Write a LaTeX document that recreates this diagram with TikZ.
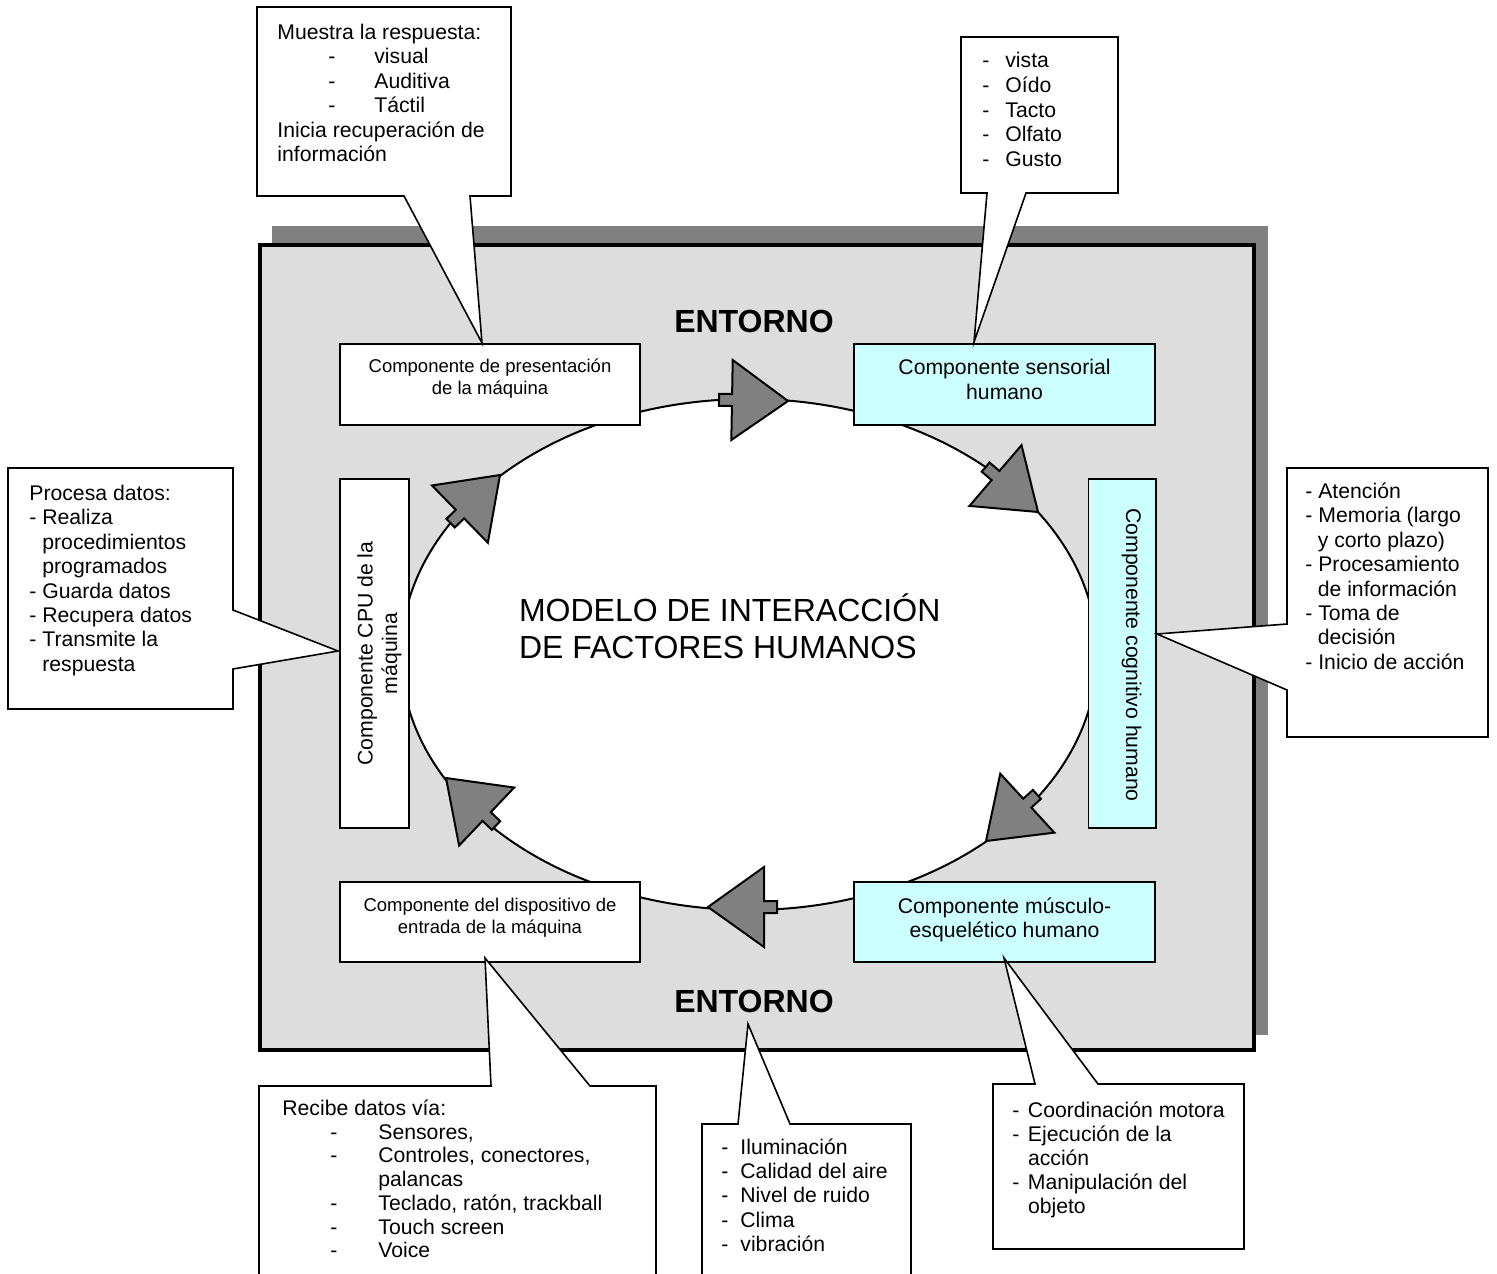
\documentclass[tikz,border=0pt]{standalone}
\usepackage{fontspec}
\setmainfont{Liberation Sans}
\definecolor{shadowgray}{HTML}{808080}
\definecolor{envgray}{HTML}{DDDDDD}
\definecolor{lightcyan}{HTML}{CCFFFF}
\newcommand\ctrtwo[2]{\vtop{\hbox to 0pt{\hss#1\hss}\hbox to 0pt{\hss#2\hss}}}
\newcommand\ditem[3]{\hbox{\kern#1pt\rlap{-}\kern#2pt\relax#3}}
\newcommand\flowarrow[3]{\draw[blockarr, shift={(#1,#2)}, rotate=#3] (0,0) -- (-56,40) -- (-56,6) -- (-69,6) -- (-69,-6) -- (-56,-6) -- (-56,-40) -- cycle;}
\tikzset{
  envframe/.style={draw=black, line width=2pt, fill=envgray},
  whitebox/.style={draw=black, line width=0.8pt, fill=white},
  cyanbox/.style={draw=black, line width=0.8pt, fill=lightcyan},
  callout/.style={draw=black, line width=0.8pt, fill=white, line join=miter},
  blockarr/.style={draw=black, line width=1pt, fill=shadowgray, line join=miter},
  ctext/.style={font=\fontsize{10.6}{12.2}\selectfont, inner sep=0pt, anchor=base west},
  smalltext/.style={font=\fontsize{9.25}{11}\selectfont, inner sep=0pt, anchor=base},
  boxtext/.style={font=\fontsize{10.6}{12.3}\selectfont, inner sep=0pt, anchor=base},
  titletext/.style={font=\fontsize{16}{18.5}\selectfont, inner sep=0pt, anchor=base west},
  envtext/.style={font=\bfseries\fontsize{16}{18}\selectfont, inner sep=0pt, anchor=base},
}
\begin{document}
\begin{tikzpicture}[x=0.5pt,y=-0.5pt,line join=miter]
\useasboundingbox (0,0) rectangle (1497,1273);
\clip (0,0) rectangle (1497,1273);
\fill[white] (0,0) rectangle (1497,1273);
% environment frame with shadow
\fill[shadowgray] (272,226) rectangle (1268,1035);
\draw[envframe] (259.5,245) rectangle (1254,1050);
% cycle ellipse
\draw[fill=white, line width=1pt] (749,654.5) ellipse [x radius=348, y radius=255.5];
% block arrows
\flowarrow{788}{401}{-1}
\flowarrow{1038}{512}{-40.6}
\flowarrow{986}{841}{-137.5}
\flowarrow{708}{907}{180}
\flowarrow{446}{778}{136.5}
\flowarrow{500}{475}{44.3}
% component boxes
\draw[whitebox] (340,344) rectangle (640,425);
\draw[cyanbox] (854,344) rectangle (1155,425);
\draw[whitebox] (340,479) rectangle (409,828);
\draw[cyanbox] (1088.5,479) rectangle (1156,828);
\draw[whitebox] (340,882) rectangle (640,962);
\draw[cyanbox] (854,882) rectangle (1155,962);
% box texts
\node[smalltext] (pres) at (490,372.6) {\ctrtwo{Componente de presentación}{de la máquina}};
\node[boxtext] (sens) at (1004.5,374.6) {\baselineskip=12.5pt\ctrtwo{Componente sensorial}{humano}};
\node[boxtext, rotate=90] (cpu) at (372.5,653.5) {\ctrtwo{Componente CPU de la}{máquina}};
\node[boxtext, rotate=-90] (cog) at (1126,655) {Componente cognitivo humano};
\node[smalltext] (disp) at (490,911) {\ctrtwo{Componente del dispositivo de}{entrada de la máquina}};
\node[boxtext] (musc) at (1004.5,913) {\baselineskip=12.3pt\ctrtwo{Componente músculo-}{esquelético humano}};
% central texts
\node[envtext] (envtop) at (754,332) {ENTORNO};
\node[envtext] (envbot) at (754,1012.5) {ENTORNO};
\node[titletext] (title) at (518.6,621) {\vtop{\hbox{MODELO DE INTERACCIÓN}\hbox{DE FACTORES HUMANOS}}};
% callouts
\draw[callout] (257,7) -- (511,7) -- (511,196) -- (470,196) -- (482,343) -- (404,196) -- (257,196) -- cycle;
\draw[callout] (961,37) -- (1118,37) -- (1118,193) -- (1026,193) -- (974,342) -- (987,193) -- (961,193) -- cycle;
\draw[callout] (8,468) -- (233,468) -- (233,610) -- (338,651) -- (233,669) -- (233,709) -- (8,709) -- cycle;
\draw[callout] (1287,468) -- (1488,468) -- (1488,737) -- (1287,737) -- (1287,690) -- (1157,634) -- (1287,624) -- cycle;
\draw[callout] (259,1300) -- (259,1086) -- (491,1086) -- (485,958) -- (590,1086) -- (656,1086) -- (656,1300) -- cycle;
\draw[callout] (702,1300) -- (702,1124) -- (738,1124) -- (748,1024) -- (790,1124) -- (911,1124) -- (911,1300) -- cycle;
\draw[callout] (993,1249) -- (993,1084) -- (1035,1084) -- (1004,958) -- (1098,1084) -- (1244,1084) -- (1244,1249) -- cycle;
% callout texts
\node[ctext] (c1) at (277,39.5) {\vtop{\hbox{Muestra la respuesta:}\ditem{25.5}{23}{visual}\ditem{25.5}{23}{Auditiva}\ditem{25.5}{23}{Táctil}\hbox{Inicia recuperación de}\hbox{información}}};
\node[ctext] (c2) at (982,68) {\vtop{\baselineskip=12.3pt\ditem{0}{11.5}{vista}\ditem{0}{11.5}{Oído}\ditem{0}{11.5}{Tacto}\ditem{0}{11.5}{Olfato}\ditem{0}{11.5}{Gusto}}};
\node[ctext] (c3) at (29,500.5) {\vtop{\hbox{Procesa datos:}\hbox{- Realiza}\hbox{\kern6.5pt procedimientos}\hbox{\kern6.5pt programados}\hbox{- Guarda datos}\hbox{- Recupera datos}\hbox{- Transmite la}\hbox{\kern6.5pt respuesta}}};
\node[ctext] (c4) at (1305,498.5) {\vtop{\hbox{- Atención}\hbox{- Memoria (largo}\hbox{\kern6.2pt y corto plazo)}\hbox{- Procesamiento}\hbox{\kern6.2pt de información}\hbox{- Toma de}\hbox{\kern6.2pt decisión}\hbox{- Inicio de acción}}};
\node[ctext] (c5) at (282,1115.5) {\vtop{\baselineskip=11.85pt\hbox{Recibe datos vía:}\ditem{24}{24}{Sensores,}\ditem{24}{24}{Controles, conectores,}\hbox{\kern48pt palancas}\ditem{24}{24}{Teclado, ratón, trackball}\ditem{24}{24}{Touch screen}\ditem{24}{24}{Voice}}};
\node[ctext] (c6) at (721,1154.5) {\vtop{\baselineskip=12.1pt\ditem{0}{9.5}{Iluminación}\ditem{0}{9.5}{Calidad del aire}\ditem{0}{9.5}{Nivel de ruido}\ditem{0}{9.5}{Clima}\ditem{0}{9.5}{vibración}}};
\node[ctext] (c7) at (1012,1117.5) {\vtop{\baselineskip=12pt\ditem{0}{7.8}{Coordinación motora}\ditem{0}{7.8}{Ejecución de la}\hbox{\kern7.8pt acción}\ditem{0}{7.8}{Manipulación del}\hbox{\kern7.8pt objeto}}};
\end{tikzpicture}
\end{document}
